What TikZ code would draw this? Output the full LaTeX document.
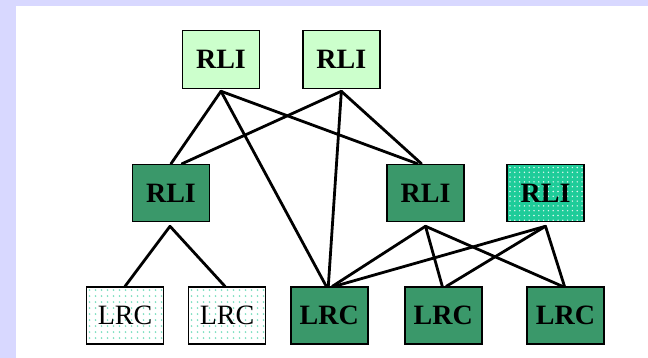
\documentclass[tikz,border=0pt]{standalone}
\usepackage{fontspec}
\setmainfont{Liberation Serif}
\usetikzlibrary{calc}
\definecolor{lav}{RGB}{216,216,255}
\definecolor{lightg}{RGB}{204,255,204}
\definecolor{darkg}{RGB}{58,152,106}
\definecolor{tealg}{RGB}{30,204,153}
\definecolor{dotg}{RGB}{120,222,190}
\begin{document}
\begin{tikzpicture}[x=1pt,y=-1pt,
  box/.style={draw=black,line width=1.5pt,minimum width=77pt,minimum height=57pt,inner sep=0pt,
    font=\fontsize{28}{32}\selectfont\bfseries},
  toprli/.style={box,fill=lightg},
  midrli/.style={box,fill=darkg},
  dotrli/.style={box,fill=tealg,path picture={
      \foreach \i in {0,...,15} \foreach \j in {0,...,11}
        \fill[white!85!tealg] ($(path picture bounding box.north west)+(3+\i*4.8,3+\j*4.8)$) circle (0.8);}},
  lrcdark/.style={box,fill=darkg},
  lrcdot/.style={box,fill=white,font=\fontsize{28}{32}\selectfont,path picture={
      \foreach \i in {0,...,12} \foreach \j in {0,...,9}
        \fill[dotg] ($(path picture bounding box.north west)+(3+\i*6,3+\j*6)$) circle (0.9);}},
  link/.style={draw=black,line width=2.8pt,line cap=round}]
\useasboundingbox (0,0) rectangle (648,358);
\fill[lav] (0,0) rectangle (648,358);
\fill[white] (16,6) rectangle (648,358);
% top
\node[toprli,minimum height=58pt] (t1) at (221,59.5) {RLI};
\node[toprli,minimum height=58pt] (t2) at (341.3,59.5) {RLI};
% middle
\node[midrli] (m1) at (171,193) {RLI};
\node[midrli] (m2) at (425.5,193) {RLI};
\node[dotrli] (m3) at (545.5,193) {RLI};
% bottom
\node[lrcdot] (b1) at (125,315.6) {LRC};
\node[lrcdot] (b2) at (227,315.6) {LRC};
\node[lrcdark] (b3) at (329.3,315.6) {LRC};
\node[lrcdark] (b4) at (443.3,315.6) {LRC};
\node[lrcdark] (b5) at (565.5,315.6) {LRC};
% links
\draw[link] ($(t1.south)+(0,2)$) -- (m1.north);
\draw[link] ($(t2.south)+(0,2)$) -- ($(m1.north)+(11,0)$);
\draw[link] ($(t1.south)+(0,2)$) -- ($(m2.north)+(-8,0)$);
\draw[link] ($(t2.south)+(0,2)$) -- ($(m2.north)+(-4,0)$);
\draw[link] ($(t1.south)+(0,2)$) -- ($(b3.north)+(-3,0)$);
\draw[link] ($(t2.south)+(0,3)$) -- ($(b3.north)+(-1,0)$);
\draw[link] ($(m1.south)+(-1,4)$) -- (b1.north);
\draw[link] ($(m1.south)+(-1,4)$) -- ($(b2.north)+(-2,0)$);
\draw[link] ($(m2.south)+(0,4)$) -- ($(b3.north)+(3,0)$);
\draw[link] ($(m2.south)+(0,4)$) -- ($(b4.north)+(-1,0)$);
\draw[link] ($(m2.south)+(0,4)$) -- ($(b5.north)+(-3,0)$);
\draw[link] ($(m3.south)+(0,4)$) -- ($(b3.north)+(5,0)$);
\draw[link] ($(m3.south)+(0,4)$) -- ($(b4.north)+(3,0)$);
\draw[link] ($(m3.south)+(0,4)$) -- ($(b5.north)+(-1,0)$);
\end{tikzpicture}
\end{document}
